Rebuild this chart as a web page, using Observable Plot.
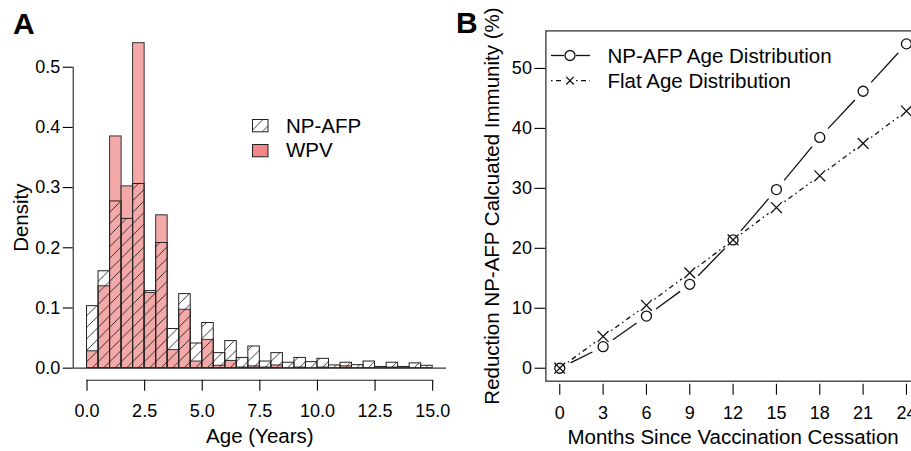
<!DOCTYPE html>
<html>
<head>
<meta charset="utf-8">
<script src="https://cdn.jsdelivr.net/npm/d3@7"></script>
<script src="https://cdn.jsdelivr.net/npm/@observablehq/plot@0.6"></script>
<style>
  html, body { margin: 0; padding: 0; background: #fff; overflow: hidden; }
  #wrap { position: relative; width: 911px; height: 451px; overflow: hidden; font-family: "Liberation Sans", Arial, sans-serif; color: #000; }
  .panel { position: absolute; top: 0; height: 451px; }
  .panel svg { max-width: none !important; }
  .tag { position: absolute; font-weight: bold; font-size: 30px; line-height: 1; }
  .leg { position: absolute; font-size: 20.5px; line-height: 1; white-space: nowrap; }
  .leg svg { position: absolute; overflow: visible; }
</style>
</head>
<body>
<svg width="0" height="0" style="position:absolute">
  <defs>
    <pattern id="hatch" patternUnits="userSpaceOnUse" width="11.5" height="11.5">
      <path d="M-1,1 L1,-1 M0,11.5 L11.5,0 M10.5,12.5 L12.5,10.5" stroke="#222" stroke-width="0.9" fill="none"/>
    </pattern>
  </defs>
</svg>
<div id="wrap">
  <div id="panelA" class="panel" style="left:0; width:460px"></div>
  <div id="panelB" class="panel" style="left:460px; width:470px"></div>
  <div class="tag" style="left:13px; top:9px">A</div>
  <div class="tag" style="left:456px; top:8px">B</div>
  <div class="leg" id="legA"></div>
  <div class="leg" id="legB"></div>
</div>
<script>
// ---------- Panel A data: age histogram densities (bins of 0.5 years) ----------
const binStarts = d3.range(0, 15, 0.5);
const binWidth = 0.5;
const npafpDensity = [0.103, 0.161, 0.277, 0.248, 0.306, 0.128, 0.208, 0.065, 0.123, 0.041,
                      0.075, 0.025, 0.045, 0.017, 0.036, 0.011, 0.025, 0.009, 0.017, 0.010,
                      0.0155, 0.0045, 0.009, 0.005, 0.011, 0.002, 0.009, 0.002, 0.008, 0.004];
const wpvDensity   = [0.028, 0.136, 0.385, 0.302, 0.540, 0.125, 0.254, 0.030, 0.097, 0.011,
                      0.047, 0.004, 0.012, 0.001, 0.003, 0.001, 0.0045, 0.000, 0.001, 0.000,
                      0.001, 0.000, 0.003, 0.000, 0.000, 0.000, 0.001, 0.000, 0.000, 0.000];
const ageTicks = [0, 2.5, 5, 7.5, 10, 12.5, 15];
const densityTicks = [0, 0.1, 0.2, 0.3, 0.4, 0.5];
const seriesA = ["NP-AFP", "WPV"];

// ---------- Panel B data ----------
const months = [0, 3, 6, 9, 12, 15, 18, 21, 24];
const npafpAgeDist = [0, 3.6, 8.7, 14.0, 21.4, 29.8, 38.5, 46.2, 54.1];
const flatAgeDist  = [0, 5.3, 10.5, 15.9, 21.4, 26.8, 32.1, 37.5, 42.9];
const monthTicks = [0, 3, 6, 9, 12, 15, 18, 21, 24];
const reductionTicks = [0, 10, 20, 30, 40, 50];
const seriesB = ["NP-AFP Age Distribution", "Flat Age Distribution"];

const FONT = "'Liberation Sans', Arial, sans-serif";
const pink = "#f4a9a9";
const pinkLegend = "#f08686";
const edge = "#333";

// R-style 4% padding
function pad(lo, hi) { const p = (hi - lo) * 0.04; return [lo - p, hi + p]; }

// ---------- Panel A ----------
const wpvBars = binStarts.map((s, i) => ({x1: s, x2: s + binWidth, d: wpvDensity[i]}));
const npBars  = binStarts.map((s, i) => ({x1: s, x2: s + binWidth, d: npafpDensity[i]}));
const xDomA = pad(ageTicks[0], ageTicks[ageTicks.length - 1]);
const yDomA = pad(densityTicks[0], densityTicks[densityTicks.length - 1]);

const plotA = Plot.plot({
  width: 460, height: 451,
  marginLeft: 72.7, marginRight: 14, marginTop: 54.7, marginBottom: 71.3,
  style: {fontFamily: FONT, color: "#000", background: "transparent", overflow: "visible", maxWidth: "none"},
  x: {domain: xDomA},
  y: {domain: yDomA},
  marks: [
    Plot.rectY(wpvBars, {x1: "x1", x2: "x2", y: "d", fill: pink, stroke: edge, strokeWidth: 1}),
    Plot.rectY(npBars, {x1: "x1", x2: "x2", y: "d", fill: "url(#hatch)", stroke: "#222", strokeWidth: 1}),
    Plot.ruleY([0], {stroke: edge, strokeWidth: 1.2}),
    Plot.ruleX([xDomA[0]], {y1: densityTicks[0], y2: densityTicks[densityTicks.length - 1], stroke: "#222", strokeWidth: 1.1}),
    Plot.ruleY([yDomA[0]], {x1: ageTicks[0], x2: ageTicks[ageTicks.length - 1], stroke: "#222", strokeWidth: 1.1}),
    Plot.axisY({ticks: densityTicks, tickFormat: d3.format(".1f"), tickSize: 10, tickPadding: 3, fontSize: 18, label: null, strokeWidth: 1.1}),
    Plot.axisX({ticks: ageTicks, tickFormat: d3.format(".1f"), tickSize: 11, tickPadding: 13, fontSize: 18, label: null, strokeWidth: 1.1}),
    Plot.text(["Density"], {frameAnchor: "left", textAnchor: "middle", rotate: -90, dx: -52, fontSize: 20.5}),
    Plot.text(["Age (Years)"], {frameAnchor: "bottom", dy: 63, fontSize: 20.5})
  ]
});
document.getElementById("panelA").appendChild(plotA);

// ---------- Panel B ----------
function segments(xs, ys) {
  const out = [];
  for (let i = 0; i < xs.length - 1; i++) out.push({x1: xs[i], y1: ys[i], x2: xs[i + 1], y2: ys[i + 1]});
  return out;
}
const xDomB = pad(d3.min(months), d3.max(months));
const yDomB = pad(0, d3.max([...npafpAgeDist, ...flatAgeDist]));
const dotdash = "1.5,3.5,5,3.5";

const plotB = Plot.plot({
  width: 470, height: 451,
  marginLeft: 85.4, marginRight: 10.2, marginTop: 30.4, marginBottom: 70.3,
  style: {fontFamily: FONT, color: "#000", background: "transparent", overflow: "visible", maxWidth: "none"},
  x: {domain: xDomB},
  y: {domain: yDomB},
  marks: [
    Plot.frame({stroke: "#333", strokeWidth: 1.3}),
    Plot.arrow(segments(months, flatAgeDist), {x1: "x1", y1: "y1", x2: "x2", y2: "y2", headLength: 0, inset: 10, stroke: "#111", strokeWidth: 1.3, strokeDasharray: dotdash, strokeLinecap: "butt"}),
    Plot.arrow(segments(months, npafpAgeDist), {x1: "x1", y1: "y1", x2: "x2", y2: "y2", headLength: 0, inset: 12, stroke: "#111", strokeWidth: 1.3, strokeLinecap: "butt"}),
    Plot.dot(months.map((m, i) => ({m, v: npafpAgeDist[i]})), {x: "m", y: "v", r: 5, stroke: "#111", strokeWidth: 1.3, fill: "none"}),
    Plot.dot(months.map((m, i) => ({m, v: flatAgeDist[i]})), {x: "m", y: "v", r: 5, symbol: "times", stroke: "#111", strokeWidth: 1.3}),
    Plot.axisY({ticks: reductionTicks, tickSize: 11, tickPadding: 3, fontSize: 18, label: null, strokeWidth: 1.1}),
    // tick marks, offset slightly below the box as in the reference
    Plot.axisX({ticks: monthTicks, tickSize: 11, tickPadding: 0, dy: 3, tickFormat: () => "", label: null, strokeWidth: 1.1}),
    // tick labels
    Plot.axisX({ticks: monthTicks, tickSize: 0, tickPadding: 25, fontSize: 18, label: null}),
    Plot.text(["Reduction NP-AFP Calcuated Immunity (%)"], {frameAnchor: "left", textAnchor: "middle", rotate: -90, dx: -53, fontSize: 20.5}),
    Plot.text(["Months Since Vaccination Cessation"], {frameAnchor: "bottom", dy: 63, fontSize: 20.5})
  ]
});
document.getElementById("panelB").appendChild(plotB);

// ---------- Legends ----------
const legA = document.getElementById("legA");
legA.style.left = "0px"; legA.style.top = "0px";
legA.innerHTML = `
  <svg style="left:252px; top:119px" width="16" height="13">
    <rect x="0.5" y="0.5" width="15.5" height="12.3" fill="url(#hatch)" stroke="#222" stroke-width="1"/>
  </svg>
  <div style="position:absolute; left:286px; top:115.5px">${seriesA[0]}</div>
  <svg style="left:252px; top:143.5px" width="16" height="13">
    <rect x="0.5" y="0.5" width="15.5" height="12.3" fill="${pinkLegend}" stroke="#222" stroke-width="1"/>
  </svg>
  <div style="position:absolute; left:286px; top:140px">${seriesA[1]}</div>`;

const legB = document.getElementById("legB");
legB.style.left = "0px"; legB.style.top = "0px";
legB.innerHTML = `
  <svg style="left:550px; top:45px" width="42" height="22">
    <line x1="1" y1="10.5" x2="14" y2="10.5" stroke="#111" stroke-width="1.3"/>
    <line x1="26" y1="10.5" x2="40" y2="10.5" stroke="#111" stroke-width="1.3"/>
    <circle cx="20" cy="10.5" r="5" fill="none" stroke="#111" stroke-width="1.3"/>
  </svg>
  <div style="position:absolute; left:607.5px; top:45.5px">${seriesB[0]}</div>
  <svg style="left:550px; top:70px" width="42" height="22">
    <line x1="1" y1="10.7" x2="14" y2="10.7" stroke="#111" stroke-width="1.3" stroke-dasharray="${dotdash}"/>
    <line x1="26" y1="10.7" x2="40" y2="10.7" stroke="#111" stroke-width="1.3" stroke-dasharray="${dotdash}"/>
    <path d="M16.2,6.9 L23.8,14.5 M23.8,6.9 L16.2,14.5" stroke="#111" stroke-width="1.3"/>
  </svg>
  <div style="position:absolute; left:607.5px; top:71px">${seriesB[1]}</div>`;
</script>
</body>
</html>
